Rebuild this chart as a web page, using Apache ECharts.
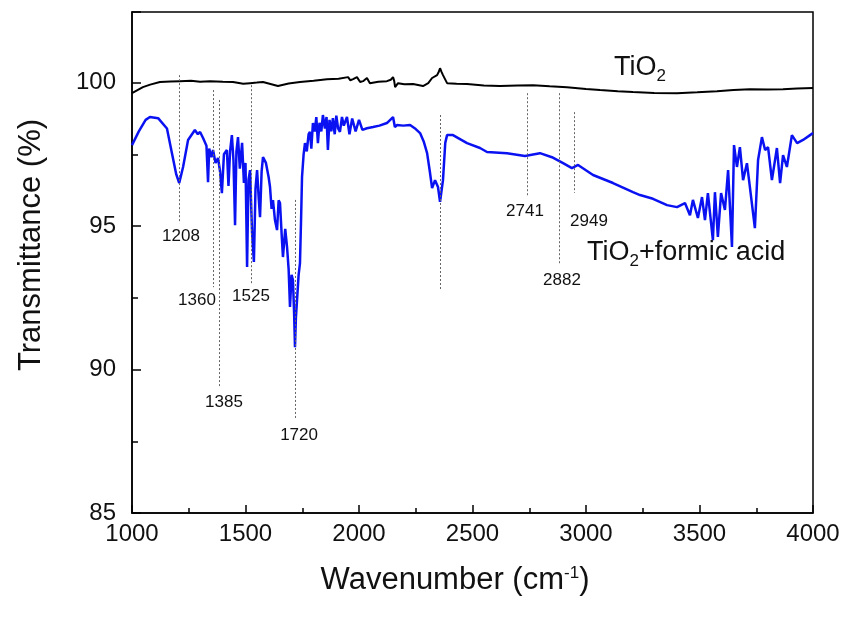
<!DOCTYPE html>
<html><head><meta charset="utf-8">
<script src="https://cdn.jsdelivr.net/npm/echarts@6/dist/echarts.min.js"></script>
<style>html,body{margin:0;padding:0;background:#fff}#c{width:850px;height:622px}</style>
</head><body><div id="c"></div>
<script>
// Wavenumber (cm-1), Transmittance (%)
var tio2 = [
[1000,99.63],[1020,99.72],[1048,99.84],[1080,99.93],[1123,100.02],[1170,100.04],[1211,100.05],[1260,100.06],[1300,100.03],[1344,100.05],
[1400,100.03],[1445,100.02],[1490,99.96],[1520,99.98],[1550,100.0],[1577,100.02],[1610,99.95],[1643,99.88],[1690,99.97],[1740,100.02],
[1800,100.06],[1859,100.12],[1910,100.13],[1952,100.19],[1962,100.08],[1974,100.12],[1991,100.19],[2005,100.02],[2018,100.05],[2035,100.16],
[2048,99.98],[2085,100.03],[2123,100.05],[2140,100.1],[2150,100.19],[2155,100.06],[2159,99.84],[2172,99.98],[2200,99.94],[2238,99.95],
[2282,99.88],[2305,99.98],[2322,100.16],[2344,100.26],[2350,100.35],[2357,100.5],[2363,100.38],[2370,100.26],[2388,99.98],[2430,99.96],
[2476,99.95],[2550,99.9],[2621,99.88],[2700,99.9],[2767,99.91],[2840,99.87],[2916,99.84],[3000,99.78],[3062,99.74],[3140,99.7],
[3207,99.67],[3300,99.64],[3401,99.63],[3490,99.66],[3577,99.7],[3650,99.74],[3722,99.77],[3800,99.76],[3868,99.77],[3930,99.79],[4000,99.81]
];
var tio2Formic = [
[1000,97.82],[1030,98.3],[1060,98.7],[1079,98.8],[1115,98.76],[1154,98.4],[1176,97.54],[1195,96.8],[1208,96.5],[1225,97.06],
[1247,98.0],[1277,98.35],[1290,98.2],[1300,98.28],[1313,98.07],[1328,97.8],[1335,96.53],[1340,97.7],[1350,97.4],[1357,97.65],
[1368,97.2],[1379,97.37],[1388,96.9],[1396,96.15],[1405,97.5],[1418,97.65],[1425,96.4],[1432,97.6],[1440,98.17],[1447,97.3],
[1454,95.03],[1460,97.6],[1467,98.1],[1475,97.0],[1485,97.9],[1493,96.5],[1500,97.2],[1507,93.57],[1513,96.6],[1520,96.95],
[1529,94.76],[1537,93.75],[1544,96.3],[1551,96.95],[1558,96.0],[1564,95.31],[1571,96.9],[1577,97.4],[1590,97.2],[1602,96.7],
[1608,96.36],[1615,95.6],[1621,95.9],[1630,95.2],[1639,94.86],[1646,95.9],[1652,95.8],[1660,94.6],[1665,93.92],[1675,94.9],
[1683,94.27],[1690,93.5],[1696,92.18],[1703,93.3],[1709,93.12],[1714,92.0],[1718,90.78],[1722,91.8],[1727,92.42],[1734,93.3],
[1740,93.71],[1745,95.3],[1749,96.71],[1756,97.5],[1762,97.89],[1770,97.6],[1778,98.2],[1784,98.28],[1790,97.7],[1797,98.59],
[1805,98.3],[1812,98.8],[1819,97.89],[1826,98.6],[1834,98.3],[1841,98.87],[1850,98.4],[1857,98.8],[1863,97.65],[1870,98.7],
[1878,98.3],[1885,98.76],[1893,98.2],[1900,98.85],[1908,98.4],[1916,98.28],[1925,98.8],[1933,98.5],[1947,98.8],[1958,98.2],
[1970,98.75],[1985,98.3],[2000,98.7],[2015,98.35],[2035,98.41],[2062,98.45],[2090,98.5],[2123,98.59],[2150,98.8],[2158,98.45],
[2167,98.52],[2195,98.5],[2225,98.52],[2250,98.38],[2269,98.24],[2285,97.95],[2300,97.54],[2312,96.9],[2322,96.32],[2335,96.6],
[2348,96.36],[2357,95.84],[2362,95.8],[2370,96.6],[2380,97.9],[2388,98.17],[2414,98.17],[2476,97.89],[2533,97.72],[2564,97.58],
[2652,97.54],[2731,97.44],[2797,97.54],[2850,97.4],[2899,97.19],[2938,97.02],[2965,97.13],[3031,96.78],[3119,96.5],[3207,96.18],
[3238,96.08],[3295,95.95],[3357,95.73],[3401,95.66],[3436,95.8],[3458,95.38],[3471,95.91],[3493,95.28],[3511,96.01],[3524,95.21],
[3537,96.15],[3559,94.51],[3568,96.18],[3581,94.62],[3595,96.15],[3612,95.56],[3626,96.95],[3643,94.27],[3652,97.82],[3665,97.06],
[3678,97.75],[3692,96.6],[3709,97.19],[3722,96.36],[3744,94.93],[3758,97.3],[3775,98.1],[3789,97.65],[3802,97.75],[3819,96.6],
[3841,97.72],[3855,96.5],[3868,97.47],[3885,97.06],[3907,98.17],[3930,97.89],[3956,98.0],[3987,98.17],[4000,98.24]
];
// peak markers: wavenumber, line top, line bottom (transmittance)
var peakWn     = [1208, 1360, 1385, 1525, 1720, 2360, 2741, 2882, 2949];
var peakTop    = [100.26, 99.74, 99.39, 99.91, 95.91, 98.87, 99.63, 99.63, 98.97];
var peakBottom = [95.1, 92.87, 89.36, 92.94, 88.24, 92.77, 96.01, 93.64, 96.15];
// peak labels: text, x, y (data units)
var peakLabelText = ['1208','1360','1385','1525','1720','2741','2882','2949'];
var peakLabelX = [1216, 1286, 1405, 1524, 1736, 2731, 2894, 3013];
var peakLabelY = [94.65, 92.42, 88.87, 92.56, 87.72, 95.52, 93.12, 95.17];
var xTicks = [1000, 1500, 2000, 2500, 3000, 3500, 4000];
var yTicks = [85, 90, 95, 100];

var FONT = 'Liberation Sans, Arial, sans-serif';
var chart = echarts.init(document.getElementById('c'));

var markLines = peakWn.map(function (w, i) {
  return [{coord: [w, peakTop[i]]}, {coord: [w, peakBottom[i]]}];
});
var markPts = peakLabelText.map(function (t, i) {
  return {coord: [peakLabelX[i], peakLabelY[i]], value: t};
});

chart.setOption({
  animation: false,
  backgroundColor: '#fff',
  grid: {left: 132, right: 37, top: 12, bottom: 109, show: true, borderColor: '#000', borderWidth: 1.5, backgroundColor: 'transparent'},
  xAxis: {
    type: 'value', min: xTicks[0], max: xTicks[xTicks.length - 1], interval: 500,
    axisLine: {show: true, lineStyle: {color: '#000', width: 1.5}},
    axisTick: {inside: true, length: 8, lineStyle: {color: '#000', width: 1.5}},
    minorTick: {show: true, splitNumber: 2, length: 5, lineStyle: {color: '#000', width: 1.5}},
    splitLine: {show: false},
    axisLabel: {color: '#111', fontSize: 24, fontFamily: FONT, margin: 9,
      formatter: function (v) { return String(v); }}
  },
  yAxis: {
    type: 'value', min: yTicks[0], max: 102.46, interval: 5,
    axisLine: {show: true, lineStyle: {color: '#000', width: 1.5}},
    axisTick: {inside: true, length: 9, lineStyle: {color: '#000', width: 1.5}},
    minorTick: {show: true, splitNumber: 2, length: 6, lineStyle: {color: '#000', width: 1.5}},
    splitLine: {show: false},
    axisLabel: {color: '#111', fontSize: 24, fontFamily: FONT, margin: 16, showMaxLabel: false,
      formatter: function (v) { return yTicks.indexOf(v) >= 0 ? String(v) : ''; }}
  },
  graphic: [
    {type: 'text', x: 31, y: 245, rotation: Math.PI / 2,
     style: {text: 'Transmittance (%)', font: '31px ' + FONT, fill: '#111', textAlign: 'center', textVerticalAlign: 'middle'}},
    {type: 'text', x: 455, y: 580,
     style: {text: '{a|Wavenumber (cm}{s|-1}{a|)}', fill: '#111', textAlign: 'center', textVerticalAlign: 'middle',
       rich: {a: {fontSize: 31, fontFamily: FONT, color: '#111'}, s: {fontSize: 17, fontFamily: FONT, color: '#111', verticalAlign: 'top', padding: [0, 0, 14, 0]}}}}
  ],
  series: [
    {
      name: 'TiO2', type: 'line', data: tio2, showSymbol: false, symbol: 'none',
      lineStyle: {color: '#000', width: 2}, z: 3,
      markPoint: {
        symbol: 'circle', symbolSize: 0,
        data: [{coord: [3238, 100.54], value: 'TiO2'}],
        label: {show: true, position: 'inside', formatter: '{a|TiO}{s|2}',
          rich: {a: {fontSize: 27, fontFamily: FONT, color: '#111'}, s: {fontSize: 17, fontFamily: FONT, color: '#111', padding: [18, 0, 0, 0]}}}
      }
    },
    {
      name: 'TiO2+formic acid', type: 'line', data: tio2Formic, showSymbol: false, symbol: 'none',
      lineStyle: {color: '#0a12f2', width: 2.5}, z: 4,
      markLine: {
        silent: true, symbol: 'none', animation: false,
        lineStyle: {color: '#666', width: 1, type: [2, 2]},
        label: {show: false},
        data: markLines
      },
      markPoint: {
        symbol: 'circle', symbolSize: 0,
        label: {show: true, position: 'inside', formatter: '{b}', color: '#111', fontSize: 17, fontFamily: FONT},
        data: markPts.map(function (p) { return {coord: p.coord, name: p.value}; }).concat([
          {coord: [3441, 94.09], name: 'formic',
           label: {formatter: '{a|TiO}{s|2}{a|+formic acid}',
             rich: {a: {fontSize: 27, fontFamily: FONT, color: '#111'}, s: {fontSize: 17, fontFamily: FONT, color: '#111', padding: [18, 0, 0, 0]}}}}
        ])
      }
    }
  ]
});
</script>
</body></html>
